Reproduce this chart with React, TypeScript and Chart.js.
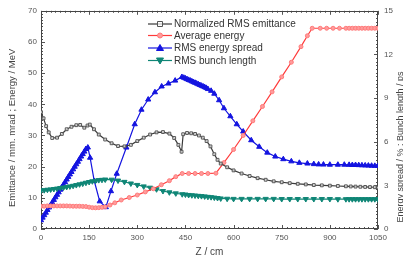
import React, { useEffect, useRef } from "react";
import { Chart, registerables } from "chart.js";

Chart.register(...registerables);

// ---------- data ----------
const emitZ = [0, 8, 16, 24, 35, 50, 65, 80, 95, 110, 122, 135, 145, 152, 165, 180, 200, 220, 240, 260, 280, 300, 320, 340, 360, 380, 400, 415, 428, 438, 443, 455, 468, 480, 492, 504, 516, 528, 540, 550, 560, 580, 600, 625, 650, 675, 700, 725, 750, 775, 800, 825, 850, 875, 900, 925, 950, 965, 980, 995, 1010, 1025, 1040, 1050];
const emitV = [37.5, 35.5, 33, 31, 29.2, 29.3, 30.5, 32, 32.8, 33.3, 33.4, 32.5, 33.2, 33.5, 32, 30.3, 28.7, 27.5, 26.6, 26.5, 27, 28.2, 29.3, 30.3, 31, 31.1, 30.6, 29.2, 27, 24.8, 30.4, 30.8, 30.7, 30.5, 30, 29.3, 28.2, 26.5, 24, 22.2, 21, 19.8, 18.8, 17.8, 17, 16.3, 15.8, 15.3, 15, 14.7, 14.5, 14.3, 14.1, 14, 13.9, 13.8, 13.7, 13.65, 13.6, 13.55, 13.5, 13.45, 13.4, 13.3];

const energyZ = [0, 10, 20, 30, 40, 50, 60, 70, 80, 90, 100, 110, 120, 130, 140, 150, 160, 170, 180, 190, 200, 215, 230, 250, 275, 300, 325, 350, 375, 400, 420, 440, 460, 480, 500, 520, 545, 570, 600, 630, 660, 690, 720, 750, 780, 810, 830, 845, 870, 890, 910, 930, 950, 960, 970, 980, 990, 1000, 1010, 1020, 1030, 1040, 1050];
const energyV = [7.3, 7.3, 7.4, 7.4, 7.4, 7.4, 7.4, 7.4, 7.4, 7.35, 7.3, 7.3, 7.3, 7.25, 7.2, 7.0, 6.85, 6.8, 6.85, 6.95, 7.1, 7.7, 8.4, 9.3, 10.1, 10.9, 11.9, 12.9, 14.2, 15.5, 16.8, 17.8, 17.8, 17.8, 17.8, 17.8, 17.9, 21.3, 25.5, 30, 34.7, 39.3, 44, 48.8, 53.5, 58.5, 62, 64.4, 64.4, 64.4, 64.4, 64.4, 64.4, 64.4, 64.4, 64.4, 64.4, 64.4, 64.4, 64.4, 64.4, 64.4, 64.4];

const spreadZ = [0, 5, 10, 15, 20, 25, 30, 35, 40, 45, 50, 55, 60, 65, 70, 75, 80, 85, 90, 95, 100, 105, 110, 115, 120, 125, 130, 135, 140, 146, 153, 166, 183, 202, 218, 236, 266, 292, 313, 334, 355, 376, 397, 418, 439, 445, 450, 455, 460, 465, 470, 475, 480, 485, 490, 495, 500, 505, 510, 515, 520, 530, 540, 555, 570, 590, 610, 630, 655, 680, 705, 730, 755, 780, 805, 830, 850, 865, 880, 900, 925, 945, 960, 970, 980, 990, 1000, 1010, 1020, 1030, 1040, 1050];
const spreadV = [0.6, 0.78, 0.95, 1.12, 1.3, 1.48, 1.65, 1.82, 2.0, 2.18, 2.35, 2.52, 2.7, 2.88, 3.05, 3.22, 3.4, 3.58, 3.75, 3.92, 4.1, 4.28, 4.45, 4.62, 4.8, 4.98, 5.15, 5.32, 5.5, 5.6, 4.9, 3.3, 1.9, 1.5, 2.6, 3.8, 5.6, 7.2, 8.2, 8.9, 9.4, 9.8, 10.0, 10.2, 10.45, 10.4, 10.35, 10.3, 10.25, 10.2, 10.15, 10.1, 10.05, 10.0, 9.95, 9.9, 9.85, 9.8, 9.75, 9.7, 9.62, 9.5, 9.3, 8.85, 8.3, 7.75, 7.2, 6.7, 6.1, 5.65, 5.25, 4.98, 4.8, 4.65, 4.55, 4.5, 4.46, 4.44, 4.43, 4.42, 4.42, 4.42, 4.41, 4.4, 4.4, 4.39, 4.38, 4.37, 4.36, 4.35, 4.34, 4.33];

const bunchZ = [0, 10, 20, 30, 40, 50, 60, 70, 80, 90, 100, 110, 120, 130, 140, 150, 160, 170, 180, 190, 200, 220, 240, 260, 280, 300, 320, 340, 360, 380, 400, 420, 440, 450, 460, 470, 480, 490, 500, 510, 520, 530, 540, 550, 560, 580, 600, 625, 650, 675, 700, 725, 750, 775, 800, 825, 850, 875, 900, 925, 950, 960, 970, 980, 990, 1000, 1010, 1020, 1030, 1040, 1050];
const bunchV = [2.65, 2.67, 2.7, 2.72, 2.75, 2.78, 2.82, 2.85, 2.89, 2.93, 2.97, 3.02, 3.07, 3.12, 3.18, 3.23, 3.28, 3.32, 3.36, 3.38, 3.4, 3.39, 3.33, 3.24, 3.13, 3.03, 2.93, 2.84, 2.73, 2.61, 2.52, 2.45, 2.39, 2.37, 2.34, 2.32, 2.3, 2.28, 2.26, 2.24, 2.21, 2.19, 2.16, 2.13, 2.1, 2.08, 2.07, 2.07, 2.07, 2.07, 2.07, 2.07, 2.06, 2.06, 2.06, 2.06, 2.06, 2.06, 2.06, 2.05, 2.05, 2.05, 2.05, 2.05, 2.05, 2.05, 2.05, 2.05, 2.05, 2.05, 2.05];

const seriesNames = ["Normalized RMS emittance", "Average energy", "RMS energy spread", "RMS bunch length"];
const xTitle = "Z / cm";
const yTitle = "Emittance / mm. mrad ; Energy / MeV";
const y2Title = "Energy spread / % ; Bunch length / ps";

const FONT = "'Liberation Sans', Arial, sans-serif";

const pairs = (zs: number[], vs: number[]) => zs.map((z, i) => ({ x: z, y: vs[i] }));

const styles = [
  { line: "#3a3a3a", fill: "rgba(255,255,255,0.7)", stroke: "#555", style: "rect", r: 2, rot: 0 },
  { line: "#ff3b3b", fill: "#ff9c9c", stroke: "#ff7a7a", style: "circle", r: 2, rot: 0 },
  { line: "#1414e0", fill: "#1414e0", stroke: "#1414e0", style: "triangle", r: 3, rot: 0 },
  { line: "#0f8676", fill: "#0f8676", stroke: "#0f8676", style: "triangle", r: 3, rot: 180 },
];

const framePlugin = {
  id: "frame",
  beforeDatasetsDraw(chart: any) {
    const { ctx, chartArea, scales } = chart;
    const { left, right, top, bottom } = chartArea;
    const x = scales.x, y = scales.y, y2 = scales.y2;
    ctx.save();
    ctx.strokeStyle = "#555";
    ctx.lineWidth = 1;
    ctx.beginPath();
    for (let v = 0; v <= 1050.01; v += 15) {
      const px = Math.round(x.getPixelForValue(v)) + 0.5;
      const major = Math.abs(v % 150) < 0.01;
      const len = major ? 4 : 2;
      ctx.moveTo(px, bottom); ctx.lineTo(px, bottom - len);
      ctx.moveTo(px, top); ctx.lineTo(px, top + len);
    }
    for (let v = 0; v <= 70.01; v += 1) {
      const py = Math.round(y.getPixelForValue(v)) + 0.5;
      const major = v % 10 === 0;
      const len = major ? 4 : 2;
      ctx.moveTo(left, py); ctx.lineTo(left + len, py);
    }
    for (let k = 0; k <= 60; k++) {
      const v = k * 0.25;
      const py = Math.round(y2.getPixelForValue(v)) + 0.5;
      const major = k % 12 === 0;
      const len = major ? 4 : 2;
      ctx.moveTo(right, py); ctx.lineTo(right - len, py);
    }
    ctx.stroke();
    ctx.strokeStyle = "#444";
    ctx.strokeRect(Math.round(left) + 0.5, Math.round(top) + 0.5, Math.round(right - left) - 1, Math.round(bottom - top) - 1);
    ctx.restore();
  },
  afterDraw(chart: any) {
    const { ctx, chartArea } = chart;
    const { left, right, top, bottom } = chartArea;
    ctx.save();
    ctx.fillStyle = "#444";
    ctx.font = `9.5px ${FONT}`;
    ctx.textAlign = "center";
    ctx.textBaseline = "middle";
    ctx.save();
    ctx.translate(12, (top + bottom) / 2 + 8);
    ctx.rotate(-Math.PI / 2);
    ctx.fillText(yTitle, 0, 0);
    ctx.restore();
    ctx.save();
    ctx.translate(401, 147);
    ctx.rotate(-Math.PI / 2);
    ctx.font = `9px ${FONT}`;
    ctx.fillText(y2Title, 0, 0);
    ctx.restore();
    ctx.font = `10px ${FONT}`;
    ctx.fillText(xTitle, (left + right) / 2, 252);

    const lx0 = 148, lx1 = 172, tx = 174;
    const rows = [24, 35.5, 48, 60.5];
    ctx.font = `10px ${FONT}`;
    ctx.textAlign = "left";
    styles.forEach((s, i) => {
      const yy = rows[i];
      ctx.strokeStyle = s.line;
      ctx.lineWidth = 1.2;
      ctx.beginPath();
      ctx.moveTo(lx0, yy); ctx.lineTo(lx1, yy);
      ctx.stroke();
      const cx = (lx0 + lx1) / 2;
      ctx.fillStyle = s.fill;
      ctx.strokeStyle = s.stroke;
      ctx.lineWidth = 1;
      ctx.beginPath();
      if (s.style === "rect") {
        ctx.rect(cx - 2.5, yy - 2.5, 5, 5);
      } else if (s.style === "circle") {
        ctx.arc(cx, yy, 2.5, 0, Math.PI * 2);
      } else if (s.rot === 0) {
        ctx.moveTo(cx, yy - 3.5); ctx.lineTo(cx + 3.5, yy + 2.5); ctx.lineTo(cx - 3.5, yy + 2.5); ctx.closePath();
      } else {
        ctx.moveTo(cx, yy + 3.5); ctx.lineTo(cx + 3.5, yy - 2.5); ctx.lineTo(cx - 3.5, yy - 2.5); ctx.closePath();
      }
      ctx.fill();
      ctx.stroke();
      ctx.fillStyle = "#333";
      ctx.fillText(seriesNames[i], tx, yy + 0.5);
    });
    ctx.restore();
  },
};

export default function App() {
  const ref = useRef<HTMLCanvasElement | null>(null);
  useEffect(() => {
    if (!ref.current) return;
    const mk = (i: number, data: any[], axis: string) => ({
      label: seriesNames[i],
      data,
      yAxisID: axis,
      borderColor: styles[i].line,
      borderWidth: 1.2,
      backgroundColor: styles[i].fill,
      pointBackgroundColor: styles[i].fill,
      pointBorderColor: styles[i].stroke,
      pointBorderWidth: 1,
      pointStyle: styles[i].style,
      pointRadius: styles[i].r,
      pointRotation: styles[i].rot,
      tension: 0,
      fill: false,
    });
    const tickFont = { family: FONT, size: 8 };
    const plain = (v: any) => String(v);
    const chart = new Chart(ref.current, {
      type: "line",
      data: {
        datasets: [
          mk(0, pairs(emitZ, emitV), "y"),
          mk(1, pairs(energyZ, energyV), "y"),
          mk(3, pairs(bunchZ, bunchV), "y2"),
          mk(2, pairs(spreadZ, spreadV), "y2"),
        ] as any,
      },
      options: {
        animation: false,
        responsive: false,
        layout: { padding: { top: 5, left: 0, right: 0, bottom: 0 } },
        plugins: { legend: { display: false }, tooltip: { enabled: false } },
        scales: {
          x: {
            type: "linear",
            min: 0,
            max: 1050,
            grid: { display: false, drawTicks: false },
            border: { display: false },
            ticks: { stepSize: 150, font: tickFont, color: "#555", padding: 4, maxRotation: 0, callback: plain },
            afterFit: (s: any) => { s.height = 35; },
          },
          y: {
            type: "linear",
            position: "left",
            min: 0,
            max: 70,
            grid: { display: false, drawTicks: false },
            border: { display: false },
            ticks: { stepSize: 10, font: tickFont, color: "#555", padding: 4, callback: plain },
            afterFit: (s: any) => { s.width = 41; },
          },
          y2: {
            type: "linear",
            position: "right",
            min: 0,
            max: 15,
            grid: { display: false, drawTicks: false },
            border: { display: false },
            ticks: { stepSize: 3, font: tickFont, color: "#555", padding: 6, callback: plain },
            afterFit: (s: any) => { s.width = 25; },
          },
        },
      } as any,
      plugins: [framePlugin],
    });
    return () => chart.destroy();
  }, []);
  return (
    <div style={{ position: "fixed", left: 0, top: 0, width: 403, height: 264, background: "#fff" }}>
      <canvas ref={ref} width={403} height={264} style={{ width: 403, height: 264, display: "block" }} />
    </div>
  );
}
